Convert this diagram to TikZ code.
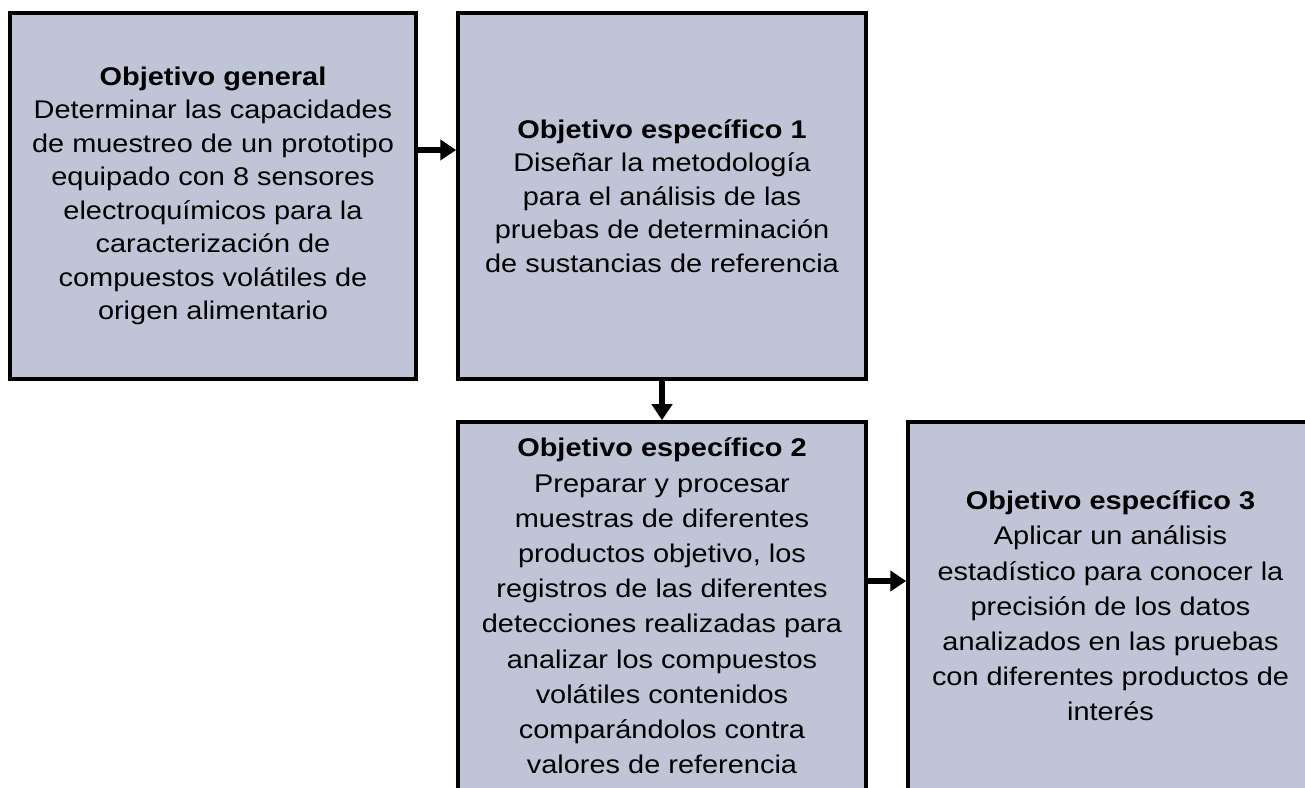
\documentclass[tikz,border=0pt]{standalone}
\usepackage{fontspec}
\usetikzlibrary{arrows.meta}
\newfontfamily\objfont[FakeStretch=1.13]{Liberation Sans}
\definecolor{cajagris}{RGB}{191,197,214}

\begin{document}
\begin{tikzpicture}[x=1pt,y=1pt,
  caja/.style={draw, line width=3.5pt, fill=cajagris, align=center, inner sep=0pt,
    font=\objfont\fontsize{25.6}{33.5}\selectfont},
  cajaabajo/.style={caja, font=\objfont\fontsize{25.6}{35.2}\selectfont},
  flecha/.style={line width=5.5pt, -{Triangle[length=16pt,width=20pt]}}]
\useasboundingbox (0,0) rectangle (1305,787);

\node[caja, minimum width=406pt, minimum height=366pt] (gen) at (213,591)
  {\textbf{Objetivo general}\\ Determinar las capacidades\\ de muestreo de un prototipo\\
   equipado con 8 sensores\\ electroquímicos para la\\ caracterización de\\
   compuestos volátiles de\\ origen alimentario};
\node[caja, minimum width=408pt, minimum height=366pt] (esp1) at (662,591)
  {\textbf{Objetivo específico 1}\\ Diseñar la metodología\\ para el análisis de las\\
   pruebas de determinación\\ de sustancias de referencia};

\node[cajaabajo, minimum width=408pt, minimum height=368pt] (esp2) at (662,181)
  {\textbf{Objetivo específico 2}\\ Preparar y procesar\\ muestras de diferentes\\
   productos objetivo, los\\ registros de las diferentes\\ detecciones realizadas para\\
   analizar los compuestos\\ volátiles contenidos\\ comparándolos contra\\ valores de referencia};
\node[cajaabajo, minimum width=405pt, minimum height=368pt] (esp3) at (1110.5,181)
  {\textbf{Objetivo específico 3}\\ Aplicar un análisis\\ estadístico para conocer la\\
   precisión de los datos\\ analizados en las pruebas\\ con diferentes productos de\\ interés};

\draw[flecha] ([yshift=46pt]gen.east) -- ([yshift=46pt]esp1.west);
\draw[flecha] (esp1.south) -- (esp2.north);
\draw[flecha] ([yshift=25pt]esp2.east) -- ([yshift=25pt]esp3.west);
\end{tikzpicture}
\end{document}
